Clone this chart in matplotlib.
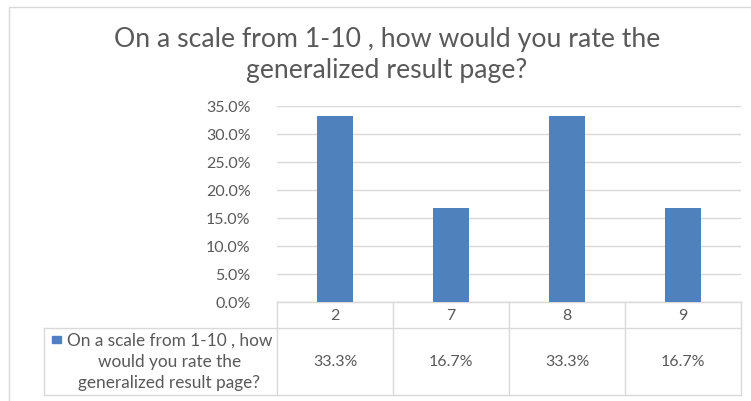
import matplotlib
matplotlib.use("Agg")
import matplotlib.pyplot as plt
import matplotlib.transforms as mtransforms
from matplotlib.patches import Rectangle
from matplotlib.lines import Line2D

categories = ["2", "7", "8", "9"]
values = [33.3, 16.7, 33.3, 16.7]
value_labels = ["33.3%", "16.7%", "33.3%", "16.7%"]
yticks = [0, 5, 10, 15, 20, 25, 30, 35]
title = "On a scale from 1-10 , how would you rate the\ngeneralized result page?"
series_name = "On a scale from 1-10 , how\nwould you rate the\ngeneralized result page?"

plt.rcParams['font.family'] = ['Lato', 'DejaVu Sans']
text_color = '#595959'
grid_color = '#d9d9d9'
bar_color = '#4f81bd'

W, H = 751, 401
fig = plt.figure(figsize=(W / 100, H / 100), dpi=100)

# chart border (extends past right/bottom edge)
fig.patches.append(Rectangle((9 / W, -0.1), 1.2, 1 - 7 / H + 0.1, transform=fig.transFigure,
                             fill=False, edgecolor=grid_color, linewidth=1))

left, right = 277 / W, 741 / W
bottom, top = 1 - 302 / H, 1 - 106 / H
ax = fig.add_axes([left, bottom, right - left, top - bottom])

x = list(range(len(categories)))
ax.bar(x, values, width=0.31, color=bar_color, zorder=3)
ax.set_xlim(-0.5, len(categories) - 0.5)
ax.set_ylim(0, 35)
ax.set_yticks(yticks)
ax.set_yticklabels(["%.1f%%" % v for v in yticks])
ax.yaxis.grid(True, color=grid_color, linewidth=1)
ax.set_axisbelow(True)
ax.tick_params(axis='y', length=0, pad=19, labelsize=11.5, labelcolor=text_color)
ax.tick_params(axis='x', length=0, labelbottom=False)
for s in ax.spines.values():
    s.set_visible(False)

# data table
ax_h = 302 - 106
hdr_bot = -(328 - 302) / ax_h
row_bot = -(395 - 302) / ax_h
trans = mtransforms.blended_transform_factory(ax.transData, ax.transAxes)
lw = 1
n = len(categories)
for i in range(n + 1):
    ax.add_line(Line2D([i - 0.5, i - 0.5], [0, row_bot], transform=trans, color=grid_color,
                       lw=lw, clip_on=False))
ax.add_line(Line2D([-0.5, n - 0.5], [0, 0], transform=trans, color=grid_color, lw=lw, clip_on=False))
# left cell starts at x=44px
px = n / (741 - 277)
lx = -0.5 - (277 - 44) * px
for yy in (hdr_bot, row_bot):
    ax.add_line(Line2D([lx, n - 0.5], [yy, yy], transform=trans, color=grid_color, lw=lw, clip_on=False))
ax.add_line(Line2D([lx, lx], [hdr_bot, row_bot], transform=trans, color=grid_color, lw=lw, clip_on=False))

for i, c in enumerate(categories):
    ax.text(i, hdr_bot / 2 - 0.005, c, transform=trans, ha='center', va='center', fontsize=11.5,
            color=text_color)
    ax.text(i, (hdr_bot + row_bot) / 2, value_labels[i], transform=trans, ha='center', va='center',
            fontsize=11.5, color=text_color)

ax.text(-0.5 - 5 * px, (hdr_bot + row_bot) / 2, series_name, transform=trans, ha='right', va='center',
        fontsize=12.4, color=text_color, multialignment='center', linespacing=1.4)
# legend key square
ax.add_patch(Rectangle((lx + 8 * px, -(343 - 302) / ax_h), 9 * px, 7 / ax_h, transform=trans,
                       color=bar_color, clip_on=False))

fig.text(387 / W, 1 - 55 / H, title, ha='center', va='center', fontsize=19.2, color=text_color,
         linespacing=1.3)

fig.savefig("out.png", dpi=100)
